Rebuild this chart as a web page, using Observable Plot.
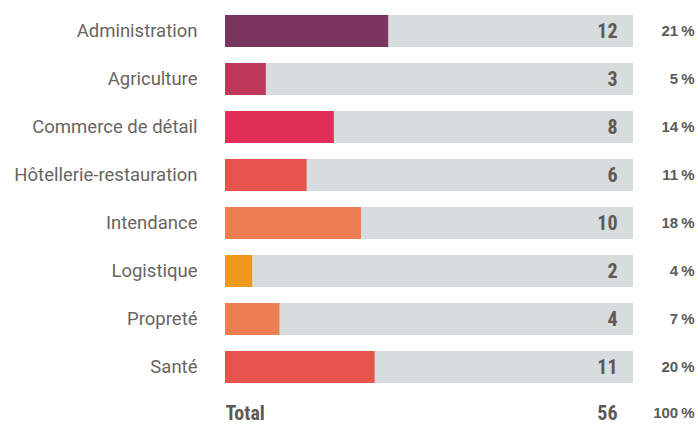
<!DOCTYPE html>
<html>
<head>
<meta charset="utf-8">
<script src="https://cdn.jsdelivr.net/npm/d3@7"></script>
<script src="https://cdn.jsdelivr.net/npm/@observablehq/plot@0.6"></script>
<style>
  html, body { margin: 0; padding: 0; background: #fff; }
</style>
</head>
<body>
<div id="chart"></div>
<script>
const categories = ["Administration", "Agriculture", "Commerce de détail", "Hôtellerie-restauration", "Intendance", "Logistique", "Propreté", "Santé"];
const counts = [12, 3, 8, 6, 10, 2, 4, 11];
const percents = [21, 5, 14, 11, 18, 4, 7, 20];
const palette = ["#7b3660", "#be375a", "#e22f59", "#e4544b", "#ec7e51", "#f0981d", "#ec7e51", "#e4544b"];
const totalLabel = "Total";
const totalCount = 56;
const totalPercent = 100;
const xMax = 30;

const rows = categories.map((c, i) => ({category: c, count: counts[i], percent: percents[i]}));
const totalRow = [{category: totalLabel, count: totalCount, percent: totalPercent}];

const labelFont = "Roboto, 'Liberation Sans', sans-serif";
const numFont = "'Liberation Sans Narrow', 'Roboto Condensed', 'DejaVu Sans Condensed', sans-serif";
const pctFont = "'Liberation Sans', Arial, sans-serif";

const chart = Plot.plot({
  width: 698,
  height: 424,
  marginLeft: 225,
  marginRight: 65,
  marginTop: 0,
  marginBottom: 0,
  x: {domain: [0, xMax], axis: null},
  y: {domain: [...categories, totalLabel], range: [15, 431], paddingInner: 1/3, paddingOuter: 0, axis: null},
  color: {domain: categories, range: palette},
  marks: [
    Plot.barX(rows, {x1: 0, x2: xMax, y: "category", fill: "#d7dcdc"}),
    Plot.barX(rows, {x: "count", y: "category", fill: "category"}),
    Plot.text(rows, {y: "category", text: "category", frameAnchor: "left", textAnchor: "end", dx: -28, fontSize: 18.5, fontFamily: labelFont, fill: "#6a645f"}),
    Plot.text(rows, {x: xMax, y: "category", text: d => String(d.count), textAnchor: "end", dx: -16, fontSize: 20, fontWeight: "bold", fontFamily: numFont, fill: "#5f5954"}),
    Plot.text(rows, {x: xMax, y: "category", text: d => d.percent + "\u2009%", textAnchor: "end", dx: 61, fontSize: 15, fontWeight: "bold", fontFamily: pctFont, fill: "#5f5954"}),
    Plot.text(totalRow, {x: xMax, y: "category", text: d => String(d.count), textAnchor: "end", dx: -16, dy: -2, fontSize: 20, fontWeight: "bold", fontFamily: numFont, fill: "#5f5954"}),
    Plot.text(totalRow, {x: xMax, y: "category", text: d => d.percent + "\u2009%", textAnchor: "end", dx: 61, dy: -2, fontSize: 15, fontWeight: "bold", fontFamily: pctFont, fill: "#5f5954"}),
    Plot.text(totalRow, {x: 0, y: "category", text: "category", textAnchor: "start", dy: -2, fontSize: 20, fontWeight: "bold", fontFamily: numFont, fill: "#5f5954"})
  ]
});
document.getElementById("chart").appendChild(chart);
</script>
</body>
</html>
